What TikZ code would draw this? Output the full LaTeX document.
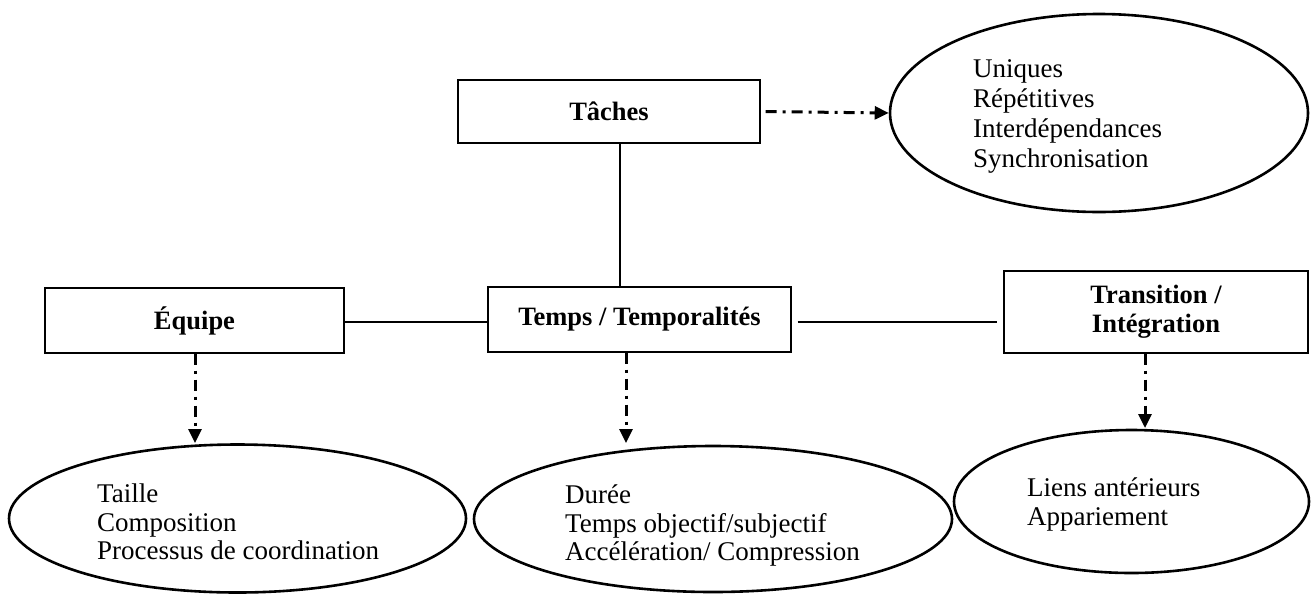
\documentclass[tikz,border=0pt]{standalone}
\usepackage{fontspec}
\setmainfont{Liberation Serif}
\usetikzlibrary{shapes.geometric,arrows.meta}
\begin{document}
\begin{tikzpicture}[x=1pt,y=-1pt,
  box/.style={draw,line width=1.4pt,rectangle,inner sep=0pt,align=center,
    font=\fontsize{26.5}{29}\selectfont\bfseries},
  ell/.style={draw,line width=2.6pt,ellipse,inner sep=0pt},
  txt/.style={anchor=north west,inner sep=0pt,align=left,
    font=\fontsize{27}{28.5}\selectfont},
  link/.style={line width=1.3pt},
  dashar/.style={line width=3pt,dash pattern=on 11pt off 6pt on 3pt off 6pt,
    -{Triangle[length=14pt,width=13pt]}},
]
\useasboundingbox (0,0) rectangle (1311,595);

% boxes
\node[box,minimum width=302pt,minimum height=63pt] (tache) at (609,111.5) {Tâches};
\node[box,minimum width=299pt,minimum height=65pt] (equipe) at (194.5,320.5) {Équipe};
\node[box,minimum width=303pt,minimum height=65pt] (temps) at (639.5,319.5) {Temps / Temporalités};
\node[box,minimum width=304pt,minimum height=82pt] (trans) at (1156,312) {Transition /\\Intégration};

% ellipses
\node[ell,minimum width=418pt,minimum height=198pt] (ellT) at (1099,113) {};
\node[ell,minimum width=457pt,minimum height=148pt] (ellL) at (237.5,518.5) {};
\node[ell,minimum width=478pt,minimum height=146pt] (ellM) at (713,519) {};
\node[ell,minimum width=355pt,minimum height=143pt] (ellR) at (1131.5,501.5) {};

% texts
\node[txt,font=\fontsize{27}{30}\selectfont] (tT) at (973,59) {Uniques\\Répétitives\\Interdépendances\\Synchronisation};
\node[txt] (tL) at (97,484) {Taille\\Composition\\Processus de coordination};
\node[txt] (tM) at (565,485) {Durée\\Temps objectif/subjectif\\Accélération/ Compression};
\node[txt,font=\fontsize{27}{29}\selectfont] (tR) at (1027,478) {Liens antérieurs\\Appariement};

% solid links
\coordinate (vx) at (620,0);
\draw[link] (vx |- tache.south) -- (vx |- temps.north);
\coordinate (hy) at (0,322);
\draw[link] (equipe.east |- hy) -- (temps.west |- hy);
\draw[link,shorten <=6pt,shorten >=6pt] (temps.east |- hy) -- (trans.west |- hy);

% dash-dot arrows
\draw[dashar,shorten <=5pt] (tache.east) -- (ellT.west);
\coordinate (ax1) at (195,443);
\draw[dashar] (ax1 |- equipe.south) -- (ax1);
\coordinate (ax2) at (626,443);
\draw[dashar] (ax2 |- temps.south) -- (ax2);
\coordinate (ax3) at (1145,428);
\draw[dashar] (ax3 |- trans.south) -- (ax3);
\end{tikzpicture}
\end{document}
